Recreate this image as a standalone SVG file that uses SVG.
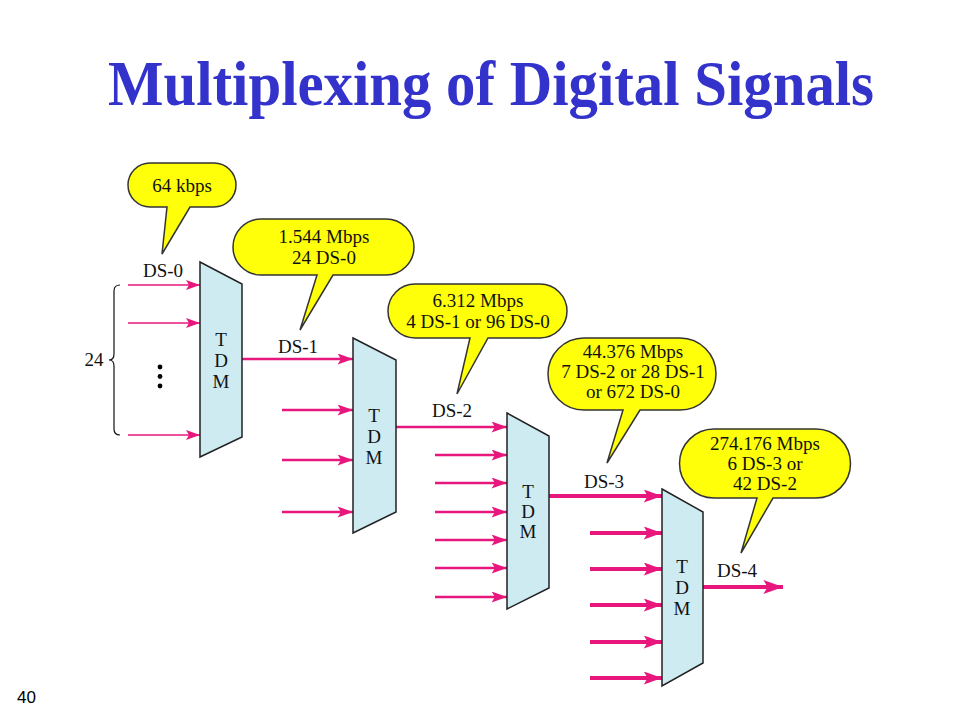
<svg xmlns="http://www.w3.org/2000/svg" width="960" height="720" viewBox="0 0 960 720">
<style>
.title{font-family:"Liberation Serif","Times New Roman",serif;font-weight:bold;font-size:63px;fill:#3333CC}
.lbl{font-family:"Liberation Serif","Times New Roman",serif;font-size:19px;fill:#111}
.tdm{fill:#CDEBF1;stroke:#222;stroke-width:1.5}
.bub{fill:#FFFF0A;stroke:#333;stroke-width:1.5}
.a1{stroke:#E8177D;stroke-width:1.6;fill:none;marker-end:url(#h1)}
.a2{stroke:#E8177D;stroke-width:2.3;fill:none;marker-end:url(#h2)}
.a3{stroke:#E8177D;stroke-width:3.8;fill:none;marker-end:url(#h3)}
.a4{stroke:#E8177D;stroke-width:3.8;fill:none;marker-end:url(#h4)}
.pg{font-family:"Liberation Sans",Arial,sans-serif;font-size:17px;fill:#000}
</style>
<defs>
<marker id="h1" viewBox="0 0 14 10" refX="14" refY="5" markerWidth="14" markerHeight="10" markerUnits="userSpaceOnUse" orient="auto"><path d="M0,0 L14,5 L0,10 L3,5 Z" fill="#E8177D"/></marker>
<marker id="h2" viewBox="0 0 14 10" refX="14" refY="5" markerWidth="16" markerHeight="11" markerUnits="userSpaceOnUse" orient="auto"><path d="M0,0 L14,5 L0,10 L3,5 Z" fill="#E8177D"/></marker>
<marker id="h3" viewBox="0 0 14 10" refX="14" refY="5" markerWidth="19" markerHeight="13" markerUnits="userSpaceOnUse" orient="auto"><path d="M0,0 L14,5 L0,10 L3,5 Z" fill="#E8177D"/></marker>
<marker id="h4" viewBox="0 0 14 10" refX="14" refY="5" markerWidth="23" markerHeight="14" markerUnits="userSpaceOnUse" orient="auto"><path d="M0,0 L14,5 L0,10 L3,5 Z" fill="#E8177D"/></marker>
</defs>
<rect width="960" height="720" fill="#fff"/>
<text class="title" x="108" y="105" textLength="766" lengthAdjust="spacingAndGlyphs">Multiplexing of Digital Signals</text>
<text class="pg" x="17" y="703">40</text>

<g id="connectors">
<line class="a1" x1="128" y1="285" x2="200" y2="285"/>
<line class="a1" x1="128" y1="323" x2="200" y2="323"/>
<line class="a1" x1="128" y1="435" x2="200" y2="435"/>
<line class="a2" x1="242" y1="359" x2="353" y2="359"/>
<line class="a2" x1="282" y1="410" x2="353" y2="410"/>
<line class="a2" x1="282" y1="460" x2="353" y2="460"/>
<line class="a2" x1="282" y1="512" x2="353" y2="512"/>
<line class="a2" x1="396" y1="427" x2="507" y2="427"/>
<line class="a2" x1="435" y1="455" x2="507" y2="455"/>
<line class="a2" x1="435" y1="483" x2="507" y2="483"/>
<line class="a2" x1="435" y1="512" x2="507" y2="512"/>
<line class="a2" x1="435" y1="540" x2="507" y2="540"/>
<line class="a2" x1="435" y1="568" x2="507" y2="568"/>
<line class="a2" x1="435" y1="597" x2="507" y2="597"/>
<line class="a3" x1="549" y1="496" x2="662" y2="496"/>
<line class="a3" x1="590" y1="533" x2="662" y2="533"/>
<line class="a3" x1="590" y1="569" x2="662" y2="569"/>
<line class="a3" x1="590" y1="605" x2="662" y2="605"/>
<line class="a3" x1="590" y1="642" x2="662" y2="642"/>
<line class="a3" x1="590" y1="678" x2="662" y2="678"/>
<line class="a4" x1="703" y1="587" x2="783" y2="587"/>
</g>

<g id="input-group">
<path d="M120,285 Q114,285 114,291 V354 Q114,360 109,360 Q114,360 114,366 V429 Q114,435 120,435" fill="none" stroke="#111" stroke-width="1.2"/>
<text class="lbl" x="94" y="366" text-anchor="middle">24</text>
<circle cx="160" cy="367" r="2.4" fill="#000"/>
<circle cx="160" cy="376.5" r="2.4" fill="#000"/>
<circle cx="160" cy="386" r="2.4" fill="#000"/>
<text class="lbl" x="163" y="277" text-anchor="middle">DS-0</text>
</g>

<g id="tdm1">
<polygon class="tdm" points="200,262 242,284 242,437 200,457"/>
<text class="lbl" x="221" y="346" text-anchor="middle">T</text>
<text class="lbl" x="221" y="367" text-anchor="middle">D</text>
<text class="lbl" x="221" y="388" text-anchor="middle">M</text>
<text class="lbl" x="298" y="353" text-anchor="middle">DS-1</text>
</g>
<g id="tdm2">
<polygon class="tdm" points="353,338 396,360 396,512 353,533"/>
<text class="lbl" x="374" y="422" text-anchor="middle">T</text>
<text class="lbl" x="374" y="443" text-anchor="middle">D</text>
<text class="lbl" x="374" y="464" text-anchor="middle">M</text>
<text class="lbl" x="452" y="417" text-anchor="middle">DS-2</text>
</g>
<g id="tdm3">
<polygon class="tdm" points="507,413 549,436 549,588 507,609"/>
<text class="lbl" x="528" y="498" text-anchor="middle">T</text>
<text class="lbl" x="528" y="518" text-anchor="middle">D</text>
<text class="lbl" x="528" y="538" text-anchor="middle">M</text>
<text class="lbl" x="604" y="488" text-anchor="middle">DS-3</text>
</g>
<g id="tdm4">
<polygon class="tdm" points="662,489 703,512 703,663 662,686"/>
<text class="lbl" x="682" y="573" text-anchor="middle">T</text>
<text class="lbl" x="682" y="594" text-anchor="middle">D</text>
<text class="lbl" x="682" y="615" text-anchor="middle">M</text>
<text class="lbl" x="737" y="577" text-anchor="middle">DS-4</text>
</g>

<g id="bubble-ds0">
<path class="bub" d="M150,163 H214 A22,22 0 0 1 214,207 H190 L162,254 L167,207 H150 A22,22 0 0 1 150,163 Z"/>
<text class="lbl" x="182" y="192" text-anchor="middle">64 kbps</text>
</g>
<g id="bubble-ds1">
<path class="bub" d="M261,219 H386 A28,28 0 0 1 386,275 H333 L300,330 L317,275 H261 A28,28 0 0 1 261,219 Z"/>
<text class="lbl" x="324" y="243" text-anchor="middle">1.544 Mbps</text>
<text class="lbl" x="324" y="264" text-anchor="middle">24 DS-0</text>
</g>
<g id="bubble-ds2">
<path class="bub" d="M415,284 H540 A27,27 0 0 1 540,338 H488 L457,394 L470,338 H415 A27,27 0 0 1 415,284 Z"/>
<text class="lbl" x="478" y="307" text-anchor="middle">6.312 Mbps</text>
<text class="lbl" x="478" y="328" text-anchor="middle">4 DS-1 or 96 DS-0</text>
</g>
<g id="bubble-ds3">
<path class="bub" d="M584,338 H680 A36,36 0 0 1 680,410 H640 L607,463 L623,410 H584 A36,36 0 0 1 584,338 Z"/>
<text class="lbl" x="633" y="358" text-anchor="middle">44.376 Mbps</text>
<text class="lbl" x="633" y="378" text-anchor="middle">7 DS-2 or 28 DS-1</text>
<text class="lbl" x="633" y="398" text-anchor="middle">or 672 DS-0</text>
</g>
<g id="bubble-ds4">
<path class="bub" d="M714,429 H816 A34.5,34.5 0 0 1 816,498 H773 L741,553 L757,498 H714 A34.5,34.5 0 0 1 714,429 Z"/>
<text class="lbl" x="765" y="450" text-anchor="middle">274.176 Mbps</text>
<text class="lbl" x="765" y="470" text-anchor="middle">6 DS-3 or</text>
<text class="lbl" x="765" y="490" text-anchor="middle">42 DS-2</text>
</g>
</svg>
